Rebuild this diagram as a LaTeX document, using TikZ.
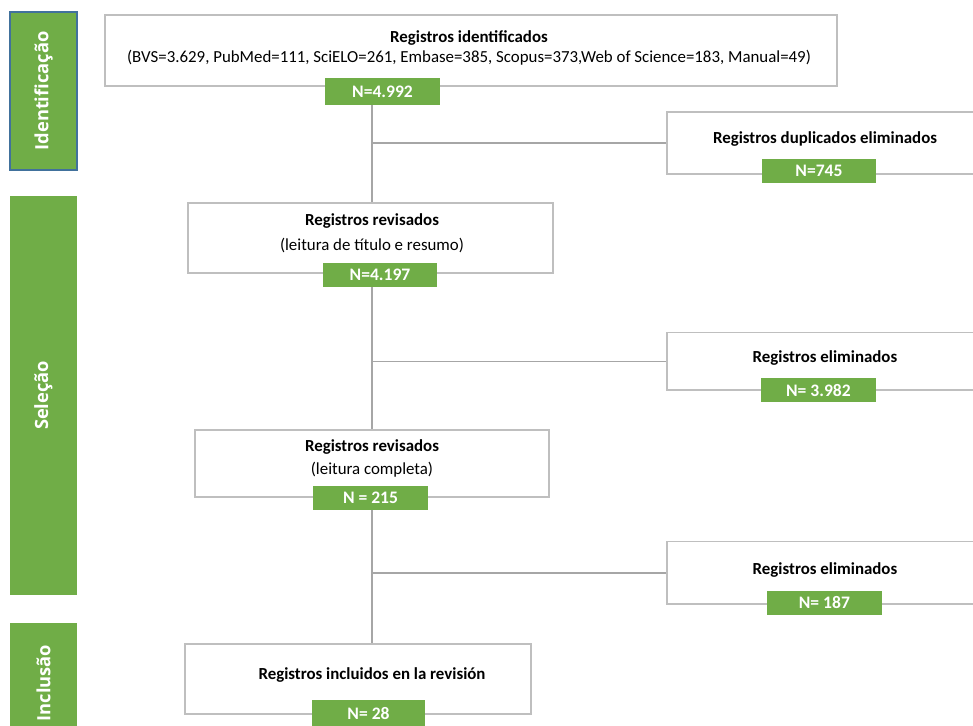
\documentclass[tikz,border=0pt]{standalone}
\usepackage{fontspec}
\setmainfont{Carlito}
\newfontfamily\barfont{Open Sans}
\definecolor{prisgreen}{HTML}{70AD47}
\definecolor{prisgray}{HTML}{BFBFBF}
\definecolor{linegray}{HTML}{A6A6A6}
\definecolor{barblue}{HTML}{41719C}

\begin{document}
\begin{tikzpicture}[
                bar/.style = {fill=prisgreen, rotate=90, minimum height=1.675cm, inner sep=0mm,
                              text=white, font=\barfont\bfseries\fontsize{13}{15}\selectfont},
                box/.style = {draw=prisgray, line width=1pt, fill=white, inner sep=0mm},
                num/.style = {fill=prisgreen, text=white, inner sep=0mm, minimum width=2.85cm, minimum height=0.6cm,
                              font=\bfseries\fontsize{12.5}{14}\selectfont},
                head/.style = {font=\bfseries\fontsize{12}{14}\selectfont},
                sub/.style = {font=\fontsize{12}{14}\selectfont},
                line/.style = {draw=linegray, line width=1pt},
            ]
            \useasboundingbox (0,0) rectangle (24.325,18.15);
            \clip (0,0) rectangle (24.325,18.15);

            \node (ID) [bar, draw=barblue, line width=0.8pt, minimum width=3.95cm] at (1.0875,15.875) {Identificação};
            \node (SEL) [bar, minimum width=9.975cm] at (1.0875,8.2625) {Seleção};
            \node (INC) [bar, minimum width=3.0cm] at (1.0875,1.075) {Inclusão};

            \coordinate (T) at (9.3,0);

            \node (R1) [box, minimum width=18.3cm, minimum height=1.775cm] at (11.775,16.8875) {};
            \node (R2) [box, minimum width=9.125cm, minimum height=1.75cm] at (9.2625,12.2) {};
            \node (R3) [box, minimum width=8.85cm, minimum height=1.675cm] at (9.3,6.5625) {};
            \node (R4) [box, minimum width=8.65cm, minimum height=1.75cm] at (8.95,1.175) {};

            \node (D1) [box, minimum width=7.9cm, minimum height=1.55cm] at (20.625,14.575) {};
            \node (D2) [box, minimum width=7.9cm, minimum height=1.43cm] at (20.625,9.116) {};
            \node (D3) [box, minimum width=7.9cm, minimum height=1.56cm] at (20.625,3.829) {};

            \node (R1H) [head] at (11.725,17.2) {Registros identificados};
            \node (R1S) [sub] at (11.725,16.7) {(BVS=3.629, PubMed=111, SciELO=261, Embase=385, Scopus=373,Web of Science=183, Manual=49)};
            \node (R2H) [head] at (9.3,12.625) {Registros revisados};
            \node (R2S) [sub] at (9.3,12.0) {(leitura de título e resumo)};
            \node (R3H) [head] at (9.3,6.975) {Registros revisados};
            \node (R3S) [sub] at (9.3,6.4) {(leitura completa)};
            \node (R4H) [head] at (9.3,1.275) {Registros incluidos en la revisión};

            \node (D1H) [head] at (20.625,14.675) {Registros duplicados eliminados};
            \node (D2H) [head] at (20.625,9.208) {Registros eliminados};
            \node (D3H) [head] at (20.625,3.9) {Registros eliminados};

            \node (N1) [num, minimum width=2.875cm, minimum height=0.675cm] at (9.5625,15.8625) {N=4.992};
            \node (N2) [num] at (9.5,11.275) {N=4.197};
            \node (N3) [num, minimum width=2.875cm] at (9.2625,5.7) {N = 215};
            \node (N4) [num, minimum width=2.825cm, minimum height=0.65cm] at (9.2125,0.325) {N= 28};
            \node (M1) [num] at (20.475,13.875) {N=745};
            \node (M2) [num, minimum width=2.87cm] at (20.46,8.4) {N= 3.982};
            \node (M3) [num, minimum width=2.87cm] at (20.61,3.079) {N= 187};

            \path[line] (N1.south -| T) -- (R2.north -| T);
            \path[line] (N2.south -| T) -- (R3.north -| T);
            \path[line] (N3.south -| T) -- (R4.north -| T);

            \path[line] (T |- D1.west) -- (D1.west);
            \path[line] (T |- D2.west) -- (D2.west);
            \path[line] (T |- D3.west) -- (D3.west);
        \end{tikzpicture}
\end{document}
